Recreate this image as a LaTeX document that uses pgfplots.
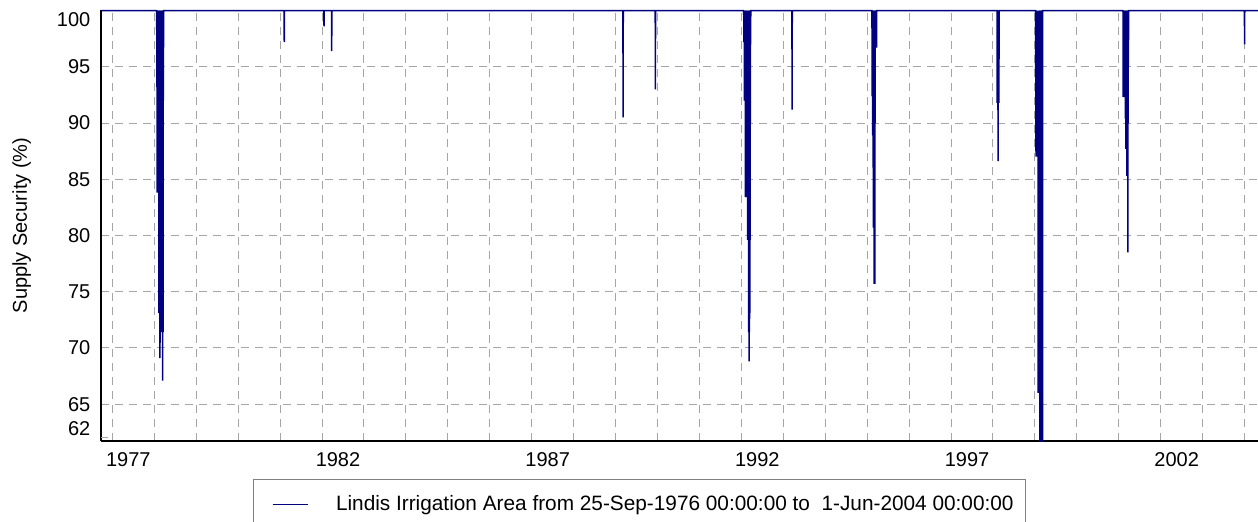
\documentclass[border=0pt]{standalone}
\usepackage{fontspec}
\setmainfont{Liberation Sans}
\usepackage{pgfplots}
\pgfplotsset{compat=1.18}
\definecolor{navy}{RGB}{0,0,128}
\definecolor{gridgray}{RGB}{165,165,165}
\definecolor{boxgray}{RGB}{128,128,128}

\begin{document}
\begin{tikzpicture}
\begin{axis}[
  at={(0,0)}, anchor=south west,
  scale only axis, width=578.5pt, height=215.5pt,
  xmin=1976.73, xmax=2004.32, ymin=61.72, ymax=100.05,
  axis x line=bottom, axis y line=left,
  axis line style={-, black, line width=0.6pt},
  xtick={1977,1982,...,2002},
  xticklabels={1977,1982,1987,1992,1997,2002},
  minor xtick={1978,1979,1980,1981,1983,1984,1985,1986,1988,1989,1990,1991,1993,1994,1995,1996,1998,1999,2000,2001,2003,2004},
  xticklabel style={xshift=8pt, yshift=-2.4pt},
  ytick={65,70,...,100},
  yticklabels={65,70,75,80,85,90,95,{\raisebox{-4.5pt}[\height][\depth]{100}}},
  extra y ticks={62},
  extra y tick labels={{\raisebox{4.8pt}[\height][\depth]{62}}},
  extra y tick style={grid=none},
  yticklabel style={xshift=-1.8pt},
  grid=both,
  major grid style={gridgray, dash pattern=on 4pt off 3pt, line width=0.5pt},
  minor grid style={gridgray, dash pattern=on 4pt off 3pt, line width=0.5pt},
  xtick style={draw=none}, minor tick length=0pt,
  ytick style={gridgray, line width=0.5pt}, major tick length=3.5pt, tick align=inside,
  tick label style={font=\fontsize{10}{12}\selectfont},
  ylabel={Supply Security (\%)},
  ylabel style={font=\fontsize{10}{12}\selectfont, at={(axis description cs:-0.0685,0.5)}, anchor=center},
  legend style={at={(axis description cs:0.1314,-0.0875)}, anchor=north west,
    draw=boxgray, line width=0.5pt, font=\fontsize{10.4}{12}\selectfont,
    inner xsep=4pt, inner ysep=6pt,
    /tikz/every odd column/.append style={column sep=12pt},
    /tikz/every even column/.append style={column sep=2pt}},
  legend cell align=left,
  legend image code/.code={\draw[draw=none] (0pt,0pt) -- (5.5pt,0pt);
    \draw[#1, line width=0.5pt] (5.5pt,0pt) -- (23pt,0pt);},
]
\addplot[navy, line width=0.75pt] coordinates {
(1976.735,100)
(1978.0586,100)
(1978.0620,93.2) (1978.0654,100) (1978.0688,83.8) (1978.0722,100)
(1978.0756,90) (1978.0790,100) (1978.0824,83.8) (1978.0858,100)
(1978.0892,95) (1978.0926,100) (1978.0960,83.8) (1978.0994,100)
(1978.1028,88) (1978.1062,100) (1978.1096,73.1) (1978.1130,100)
(1978.1164,85) (1978.1198,100) (1978.1232,73.1) (1978.1266,100)
(1978.1300,80) (1978.1334,100) (1978.1368,69.1) (1978.1402,100)
(1978.1436,78) (1978.1470,100) (1978.1504,73.1) (1978.1538,100)
(1978.1572,90) (1978.1606,100) (1978.1640,71.4) (1978.1674,100)
(1978.1708,85) (1978.1742,100) (1978.1776,71.4) (1978.1810,100)
(1978.1844,71.4) (1978.1878,100) (1978.1912,80) (1978.1946,100)
(1978.1980,67.1) (1978.2014,100) (1978.2048,88) (1978.2082,100)
(1978.2116,71.4) (1978.2150,100) (1978.2184,92) (1978.2218,100)
(1981.096,100) (1981.100,97.2) (1981.104,100)
(1982.044,100) (1982.048,98.6) (1982.052,100)
(1982.227,100) (1982.231,96.4) (1982.235,100)
(1989.176,100) (1989.180,90.5) (1989.184,100)
(1989.946,100) (1989.950,93.0) (1989.954,100)
(1992.0565,100)
(1992.0600,97.2) (1992.0635,100) (1992.0670,97.2) (1992.0705,100)
(1992.0740,92) (1992.0775,100) (1992.0810,97.2) (1992.0845,100)
(1992.0880,92) (1992.0915,100) (1992.0950,83.4) (1992.0985,100)
(1992.1020,92) (1992.1055,100) (1992.1090,83.4) (1992.1125,100)
(1992.1160,88) (1992.1195,100) (1992.1230,83.4) (1992.1265,100)
(1992.1300,92) (1992.1335,100) (1992.1370,83.4) (1992.1405,100)
(1992.1440,88) (1992.1475,100) (1992.1510,79.6) (1992.1545,100)
(1992.1580,85) (1992.1615,100) (1992.1650,79.6) (1992.1685,100)
(1992.1720,71.4) (1992.1755,100) (1992.1790,80) (1992.1825,100)
(1992.1860,68.8) (1992.1895,100) (1992.1930,71.4) (1992.1965,100)
(1992.2000,72.6) (1992.2035,100) (1992.2070,79.6) (1992.2105,100)
(1992.2140,90) (1992.2175,100) (1992.2210,97) (1992.2245,100)
(1993.206,100) (1993.210,91.2) (1993.214,100)
(1995.1145,100)
(1995.1180,92.4) (1995.1215,100) (1995.1250,95) (1995.1285,100)
(1995.1320,88.9) (1995.1355,100) (1995.1390,92) (1995.1425,100)
(1995.1460,80.7) (1995.1495,100) (1995.1530,88.9) (1995.1565,100)
(1995.1600,85) (1995.1635,100) (1995.1670,75.7) (1995.1705,100)
(1995.1740,80) (1995.1775,100) (1995.1810,75.7) (1995.1845,100)
(1995.1880,90) (1995.1915,100) (1995.1950,96.7) (1995.1985,100)
(1995.2020,96.7) (1995.2055,100) (1995.2090,97.5) (1995.2125,100)
(1995.2160,96.7) (1995.2195,100) (1995.2230,96.7) (1995.2265,100)
(1998.0965,100)
(1998.1000,91.8) (1998.1035,100) (1998.1070,93) (1998.1105,100)
(1998.1140,91.8) (1998.1175,100) (1998.1210,86.6) (1998.1245,100)
(1998.1280,91.8) (1998.1315,100) (1998.1350,95) (1998.1385,100)
(1998.1420,91.8) (1998.1455,100)
(1999.0185,100)
(1999.0220,87.5) (1999.0255,100) (1999.0290,87.0) (1999.0325,100)
(1999.0360,92) (1999.0395,100) (1999.0430,87.0) (1999.0465,100)
(1999.0500,90) (1999.0535,100) (1999.0570,87) (1999.0605,100)
(1999.0640,95) (1999.0675,100) (1999.0710,87) (1999.0745,100)
(1999.0780,66.0) (1999.0815,100) (1999.0850,80) (1999.0885,100)
(1999.0920,66.0) (1999.0955,100) (1999.0990,72) (1999.1025,100)
(1999.1060,66.0) (1999.1095,100) (1999.1130,75) (1999.1165,100)
(1999.1200,60) (1999.1235,100) (1999.1270,60) (1999.1305,100)
(1999.1340,60) (1999.1375,100) (1999.1410,60) (1999.1445,100)
(1999.1480,60) (1999.1515,100) (1999.1550,60) (1999.1585,100)
(1999.1620,60) (1999.1655,100) (1999.1690,60) (1999.1725,100)
(1999.1760,60) (1999.1795,100) (1999.1830,60) (1999.1865,100)
(2001.1005,100)
(2001.1040,92.3) (2001.1075,100) (2001.1110,95) (2001.1145,100)
(2001.1180,92.3) (2001.1215,100) (2001.1250,96) (2001.1285,100)
(2001.1320,92.3) (2001.1355,100) (2001.1390,97) (2001.1425,100)
(2001.1460,92.3) (2001.1495,100) (2001.1530,98) (2001.1565,100)
(2001.1600,90.4) (2001.1635,100) (2001.1670,87.7) (2001.1705,100)
(2001.1740,92) (2001.1775,100) (2001.1810,90.4) (2001.1845,100)
(2001.1880,95) (2001.1915,100) (2001.1950,85.3) (2001.1985,100)
(2001.2020,90.4) (2001.2055,100) (2001.2090,88) (2001.2125,100)
(2001.2160,78.5) (2001.2195,100) (2001.2230,90) (2001.2265,100)
(2001.2300,95) (2001.2335,100)
(2003.996,100) (2004.000,97.0) (2004.004,100)
(2004.416,100)
};
\addlegendentry{Lindis Irrigation Area from 25-Sep-1976 00:00:00 to\ \ 1-Jun-2004 00:00:00}
\end{axis}
\pgfresetboundingbox
\useasboundingbox (-50.5pt,-40pt) rectangle (578.5pt,220.5pt);
\end{tikzpicture}
\end{document}
